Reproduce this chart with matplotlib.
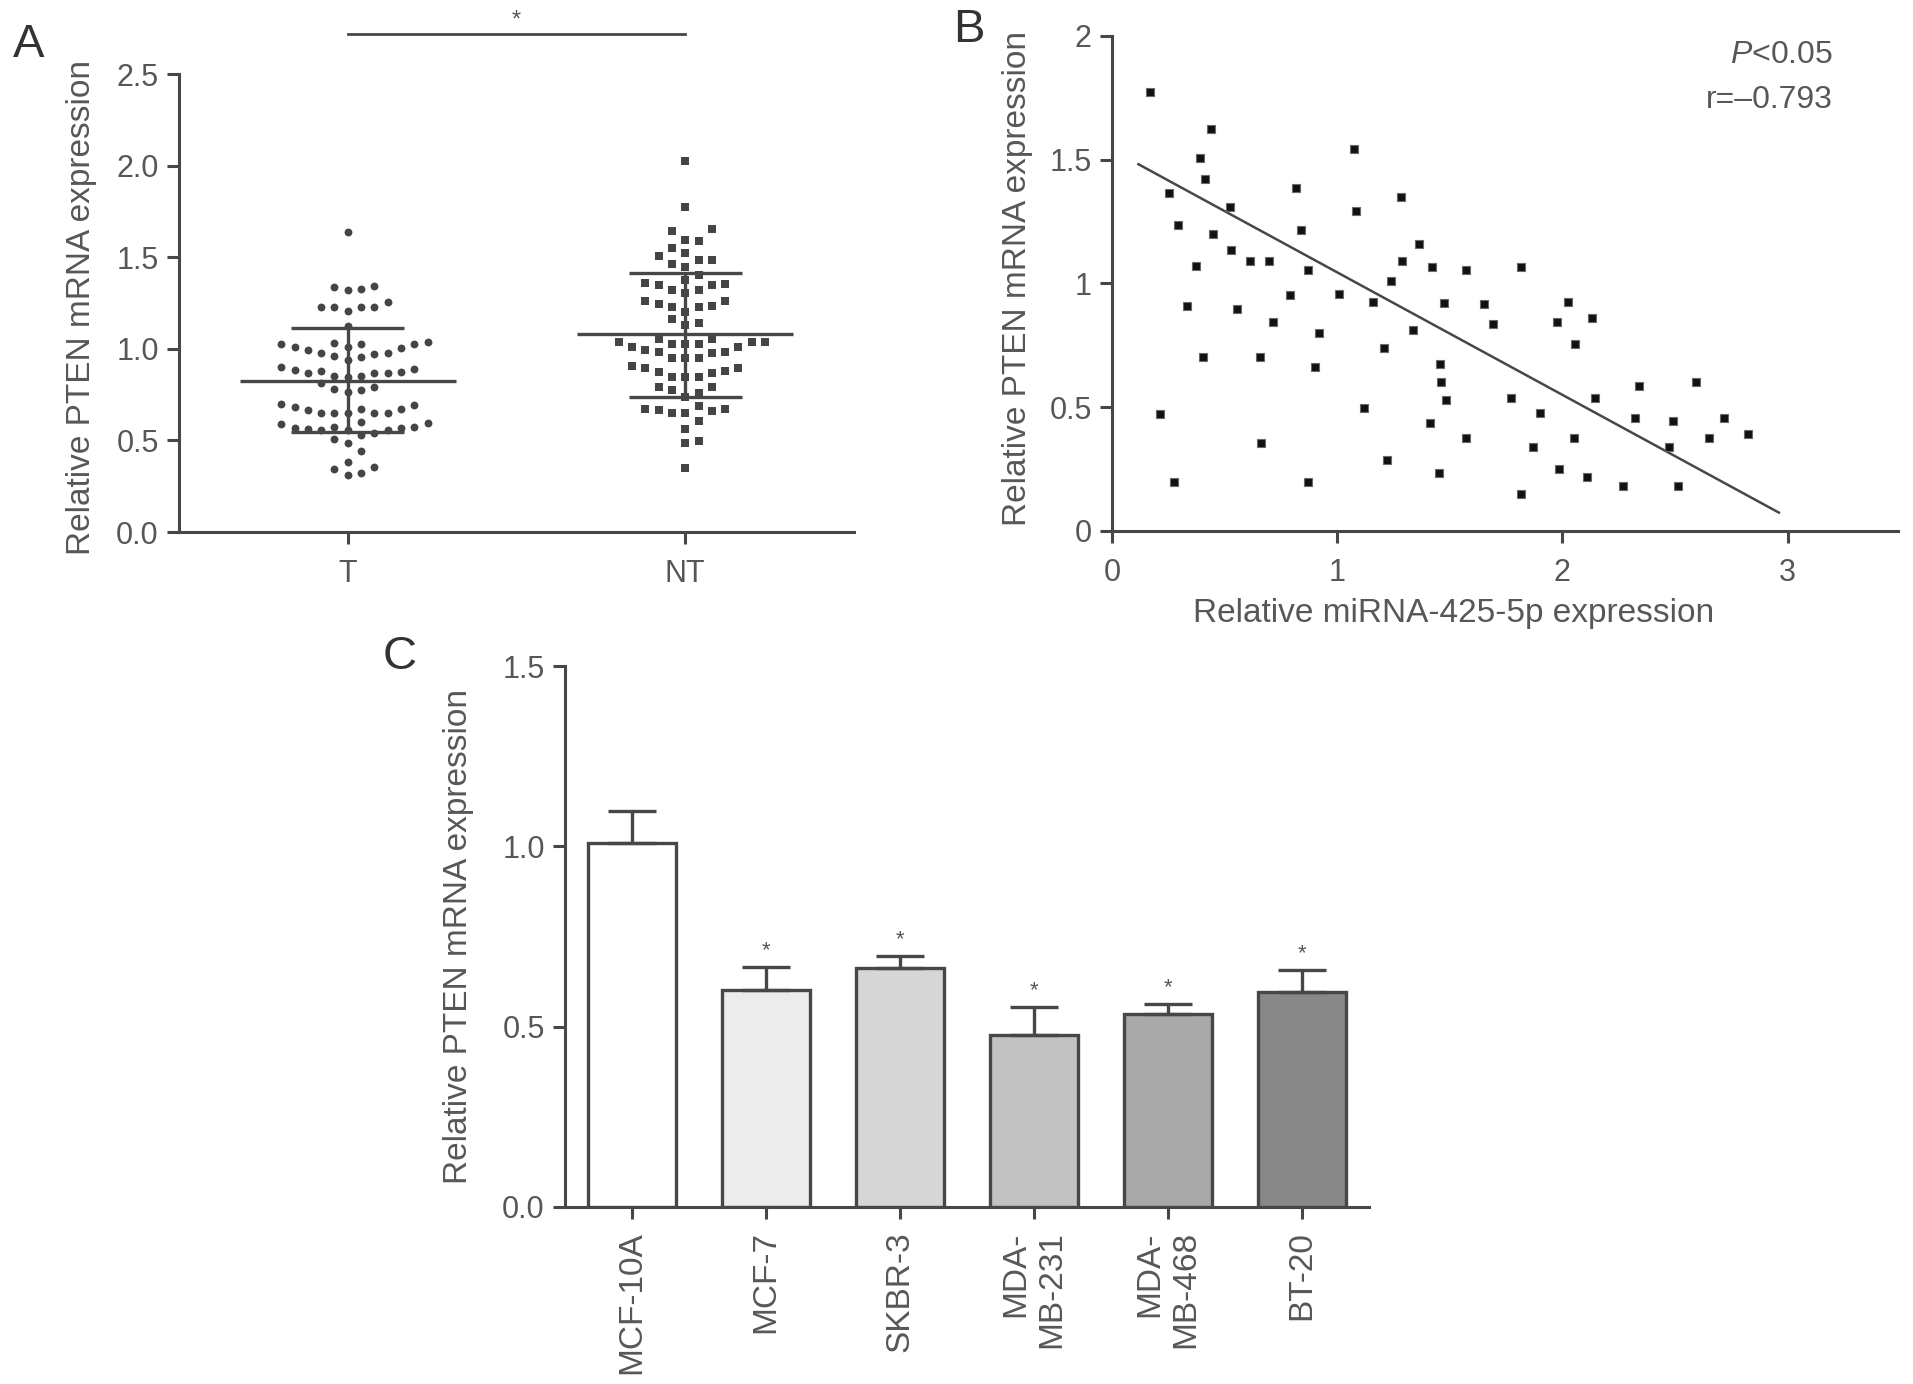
import numpy as np
import matplotlib
matplotlib.use("Agg")
import matplotlib.pyplot as plt

plt.rcParams["font.family"] = ["Liberation Sans", "DejaVu Sans"]
plt.rcParams["mathtext.fontset"] = "custom"
plt.rcParams["mathtext.it"] = "Liberation Sans:italic"
plt.rcParams["mathtext.rm"] = "Liberation Sans"

W, H = 1913, 1384
TEXT = "#575757"
LINE = "#474747"
DOT = "#454545"

# -----------------------------
# Panel A: tumour (T) vs non-tumour (NT)
# -----------------------------
a_groups = ["T", "NT"]
t_vals = [
    0.310, 0.320, 0.342, 0.357, 0.384, 0.444, 0.488, 0.506, 0.530,
    0.542, 0.557, 0.557, 0.557, 0.561, 0.566, 0.566, 0.575, 0.575, 0.588, 0.593, 0.600,
    0.651, 0.651, 0.651, 0.651, 0.651, 0.666, 0.670, 0.670, 0.684, 0.693, 0.699,
    0.766, 0.775, 0.779, 0.793, 0.811,
    0.848, 0.853, 0.853, 0.866, 0.866, 0.870, 0.875, 0.881, 0.884, 0.890, 0.899,
    0.939, 0.953, 0.962, 0.971, 0.975, 0.979,
    0.993, 1.003, 1.008, 1.008, 1.026, 1.026, 1.026, 1.033, 1.039,
    1.124,
    1.206, 1.230, 1.230, 1.230, 1.230, 1.254,
    1.321, 1.324, 1.336, 1.344,
    1.639,
]
nt_vals = [
    2.027, 1.776, 1.652, 1.645, 1.594, 1.590, 1.525, 1.548, 1.485, 1.507,
    1.485, 1.463, 1.448, 1.403, 1.376,
    1.361, 1.348, 1.321, 1.306, 1.321, 1.348, 1.354,
    1.263, 1.230, 1.230, 1.203, 1.234, 1.245, 1.263,
    1.161, 1.130, 1.143,
    1.052, 1.008, 1.039, 0.993, 1.039, 0.975, 1.026, 1.026, 1.026, 1.039,
    0.984, 1.052, 0.984, 1.012,
    0.948, 0.948, 0.948,
    0.893, 0.881, 0.866, 0.844, 0.844, 0.848, 0.875, 0.893, 0.906,
    0.790, 0.775, 0.757, 0.790, 0.735,
    0.670, 0.662, 0.651, 0.651, 0.666, 0.608, 0.670, 0.688,
    0.560, 0.498, 0.484, 0.348,
]
a_mean = [0.824, 1.081]
a_sd_low = [0.546, 0.735]
a_sd_high = [1.112, 1.412]

# -----------------------------
# Panel B: correlation scatter
# -----------------------------
b_mirna = [
    0.169, 0.440, 0.391, 0.413, 0.253, 0.524, 0.295, 0.447, 0.527, 0.613,
    0.699, 0.373, 0.332, 0.556, 0.714, 0.406, 0.658, 0.213, 0.661, 0.276,
    0.816, 0.840, 0.870, 0.791, 0.920, 0.901, 0.871, 1.073, 1.083, 1.010,
    1.157, 1.120, 1.206, 1.221, 1.283, 1.288, 1.361, 1.239, 1.336, 1.421,
    1.473, 1.458, 1.463, 1.484, 1.413, 1.570, 1.453, 1.573, 1.653, 1.690,
    1.815, 2.024, 1.976, 2.132, 2.056, 1.773, 1.899, 2.144, 2.341, 2.593,
    2.321, 2.490, 2.716, 2.652, 2.825, 1.871, 2.053, 2.474, 1.985, 2.111,
    2.267, 2.511, 1.815,
]
b_pten = [
    1.772, 1.624, 1.508, 1.422, 1.367, 1.310, 1.236, 1.200, 1.137, 1.090,
    1.090, 1.072, 0.909, 0.898, 0.843, 0.704, 0.704, 0.471, 0.357, 0.198,
    1.386, 1.216, 1.055, 0.954, 0.799, 0.661, 0.198, 1.543, 1.294, 0.956,
    0.925, 0.498, 0.738, 0.287, 1.349, 1.090, 1.160, 1.010, 0.812, 1.065,
    0.920, 0.675, 0.602, 0.529, 0.435, 0.374, 0.233, 1.055, 0.916, 0.835,
    1.065, 0.925, 0.846, 0.862, 0.756, 0.536, 0.475, 0.536, 0.586, 0.603,
    0.458, 0.444, 0.458, 0.375, 0.391, 0.338, 0.375, 0.338, 0.252, 0.217,
    0.183, 0.183, 0.149,
]
b_fit_slope = -0.495
b_fit_intercept = 1.540
b_fit_span = [0.117, 2.961]

# -----------------------------
# Panel C: cell lines
# -----------------------------
c_lines = ["MCF-10A", "MCF-7", "SKBR-3", "MDA-\nMB-231", "MDA-\nMB-468", "BT-20"]
c_means = [1.009, 0.601, 0.662, 0.477, 0.536, 0.597]
c_err = [0.088, 0.065, 0.033, 0.077, 0.028, 0.061]
c_colors = ["#ffffff", "#ececec", "#d6d6d6", "#c2c2c2", "#a9a9a9", "#888888"]
c_star = [False, True, True, True, True, True]


def swarm_offsets(values, step, gap):
    # greedy beeswarm: lowest values first, fill centre column then outwards
    values = np.asarray(values)
    offsets = np.zeros(len(values))
    slots = [0]
    for k in range(1, 25):
        slots += [k, -k]
    cols = {}
    for i in np.argsort(values, kind="stable"):
        v = values[i]
        for c in slots:
            taken = cols.setdefault(c, [])
            if all(abs(v - u) >= gap for u in taken):
                taken.append(v)
                offsets[i] = c * step
                break
    return offsets


def style_axes(ax):
    for side in ("top", "right"):
        ax.spines[side].set_visible(False)
    for side in ("left", "bottom"):
        ax.spines[side].set_color(LINE)
        ax.spines[side].set_linewidth(2.2)
    ax.tick_params(direction="out", length=8.5, width=2.2, color=LINE,
                   labelcolor=TEXT, labelsize=22, pad=6)


def px_axes(fig, left, top, right, bottom):
    return fig.add_axes([left / W, 1 - bottom / H, (right - left) / W, (bottom - top) / H])


fig = plt.figure(figsize=(W / 100, H / 100), dpi=100)

# ---- A ----
axA = px_axes(fig, 179, 74, 854, 532)
style_axes(axA)
axA.set_xlim(-0.5, 1.5)
axA.set_ylim(0, 2.5)
step, gap = 0.0394, 0.068
axA.scatter(0 + swarm_offsets(t_vals, step, gap), t_vals, marker="o", s=32,
            color=DOT, linewidths=0, zorder=3)
axA.scatter(1 + swarm_offsets(nt_vals, step, gap), nt_vals, marker="s", s=30,
            color=DOT, linewidths=0, zorder=3)
for i in range(len(a_groups)):
    axA.hlines(a_mean[i], i - 0.32, i + 0.32, color=LINE, lw=2.4, zorder=4)
    axA.hlines([a_sd_low[i], a_sd_high[i]], i - 0.167, i + 0.167, color=LINE, lw=2.4, zorder=4)
    axA.vlines(i, a_sd_low[i], a_sd_high[i], color=LINE, lw=2.4, zorder=4)
axA.set_xticks(range(len(a_groups)))
axA.set_xticklabels(a_groups)
axA.tick_params(axis="x", pad=11)
axA.set_yticks(np.arange(0, 2.51, 0.5))
axA.set_yticklabels([f"{v:.1f}" for v in np.arange(0, 2.51, 0.5)])
axA.set_ylabel("Relative PTEN mRNA expression", fontsize=24, color=TEXT)
axA.yaxis.set_label_coords(-0.122, 0.49)
axA.plot([0, 1], [2.718, 2.718], color=LINE, lw=2.0, clip_on=False)
axA.text(0.5, 2.79, "*", ha="center", va="center", fontsize=17, color=TEXT, clip_on=False)

# ---- B ----
axB = px_axes(fig, 1112, 36, 1898, 531)
style_axes(axB)
axB.set_xlim(0, 3.49)
axB.set_ylim(0, 2)
axB.scatter(b_mirna, b_pten, marker="s", s=30, color="#111111",
            edgecolors="#6a6a6a", linewidths=0.8, zorder=3)
fit_x = np.array(b_fit_span)
axB.plot(fit_x, b_fit_intercept + b_fit_slope * fit_x, color=LINE, lw=1.8, zorder=2)
axB.set_xticks([0, 1, 2, 3])
axB.set_xticklabels(["0", "1", "2", "3"])
axB.tick_params(axis="x", pad=11)
axB.set_yticks([0, 0.5, 1, 1.5, 2])
axB.set_yticklabels(["0", "0.5", "1", "1.5", "2"])
axB.set_xlabel("Relative miRNA-425-5p expression", fontsize=24, color=TEXT)
axB.xaxis.set_label_coords(0.435, -0.135)
axB.set_ylabel("Relative PTEN mRNA expression", fontsize=24, color=TEXT)
axB.yaxis.set_label_coords(-0.1, 0.51)
axB.text(0.917, 0.962, "$P$<0.05", transform=axB.transAxes, ha="right", va="center",
         fontsize=23, color=TEXT)
axB.text(0.917, 0.871, "r=\u20130.793", transform=axB.transAxes, ha="right", va="center",
         fontsize=23, color=TEXT)

# ---- C ----
axC = px_axes(fig, 565, 666, 1369, 1207)
style_axes(axC)
xc = np.arange(len(c_lines))
axC.bar(xc, c_means, width=0.66, color=c_colors, edgecolor=LINE, linewidth=2.4, zorder=2)
axC.errorbar(xc, c_means, yerr=[np.zeros(len(c_err)), c_err], fmt="none",
             ecolor=LINE, elinewidth=2.4, capsize=17, capthick=2.4, zorder=3)
for i in range(len(c_lines)):
    if c_star[i]:
        axC.text(xc[i], c_means[i] + c_err[i] + 0.045, "*", ha="center", va="center",
                 fontsize=16, color=TEXT)
axC.set_xlim(-0.5, 5.5)
axC.set_ylim(0, 1.5)
axC.set_xticks(xc)
axC.set_xticklabels(c_lines, rotation=90, ha="center", va="top", multialignment="right",
                    fontsize=24)
axC.tick_params(axis="x", pad=9)
axC.set_yticks([0, 0.5, 1.0, 1.5])
axC.set_yticklabels(["0.0", "0.5", "1.0", "1.5"])
axC.set_ylabel("Relative PTEN mRNA expression", fontsize=24, color=TEXT)
axC.yaxis.set_label_coords(-0.113, 0.5)

# panel letters
for letter, (lx, ly) in {"A": (29, 45), "B": (969, 30), "C": (400, 657)}.items():
    fig.text(lx / W, 1 - ly / H, letter, fontsize=34, ha="center", va="center", color="#333333")

fig.savefig("out.png", dpi=100)
